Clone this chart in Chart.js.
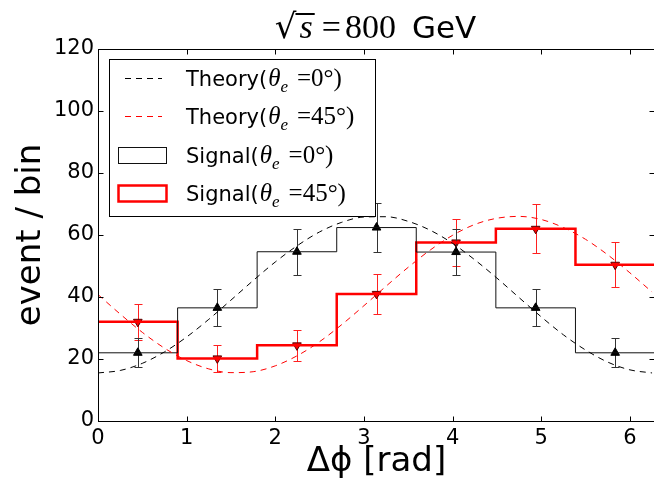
<!DOCTYPE html>
<html>
<head>
<meta charset="utf-8">
<script src="https://cdn.jsdelivr.net/npm/chart.js@4/dist/chart.umd.min.js"></script>
<style>
  html, body { margin: 0; padding: 0; overflow: hidden; background: #fff; }
</style>
</head>
<body>
<canvas id="chart" width="661" height="486"></canvas>
<script>
// histogram bins (7 bins over 0..2pi)
const binEdges = [0, 0.898, 1.795, 2.693, 3.590, 4.488, 5.386, 6.283];
const binCenters = [0.449, 1.346, 2.244, 3.142, 4.039, 4.937, 5.834];

// signal counts per bin
const signal0 = [22, 36.5, 54.6, 62.4, 54.5, 36.5, 22];
const signal0Err = [4.7, 6.0, 7.4, 7.9, 7.4, 6.0, 4.7];
const signal45 = [32, 20.2, 24.4, 41, 57.6, 62, 50.4];
const signal45Err = [5.8, 4.4, 5.0, 6.5, 7.6, 7.9, 7.2];

// theory curves sampled every 0.25 rad
const theoryX = [0, 0.25, 0.5, 0.75, 1, 1.25, 1.5, 1.75, 2, 2.25, 2.5, 2.75, 3, 3.25, 3.5, 3.75, 4, 4.25, 4.5, 4.75, 5, 5.25, 5.5, 5.75, 6, 6.25];
const theory0 = [15.5, 16.3, 18.6, 22.3, 27.1, 32.8, 39.0, 45.3, 51.3, 56.6, 61.0, 64.1, 65.8, 65.9, 64.4, 61.5, 57.3, 52.0, 46.1, 39.8, 33.6, 27.8, 22.9, 19.0, 16.5, 15.5];
const theory45 = [40.8, 34.5, 28.6, 23.5, 19.5, 16.8, 15.6, 15.9, 17.8, 21.1, 25.6, 31.1, 37.2, 43.5, 49.6, 55.2, 59.9, 63.4, 65.4, 66.0, 65.0, 62.4, 58.6, 53.6, 47.8, 41.6];

const xTicks = [0, 1, 2, 3, 4, 5, 6];
const yTicks = [0, 20, 40, 60, 80, 100, 120];

const SANS = '"DejaVu Sans", sans-serif';
const SERIF = '"Liberation Serif", "DejaVu Serif", serif';

function stepData(vals) {
  return binEdges.map((x, i) => ({ x: x, y: vals[Math.min(i, vals.length - 1)] }));
}
function pointData(vals) {
  return binCenters.map((x, i) => ({ x: x, y: vals[i] }));
}

// error bars, drawn just before the marker dataset
const errorBars = {
  id: 'errorBars',
  beforeDatasetDraw(chart, args) {
    const ds = chart.data.datasets[args.index];
    if (!ds.errors) return;
    const { ctx, scales: { x, y } } = chart;
    ctx.save();
    ctx.strokeStyle = ds.errorColor;
    ctx.lineWidth = 1;
    ds.data.forEach((p, i) => {
      const px = Math.round(x.getPixelForValue(p.x)) + 0.5;
      const top = Math.round(y.getPixelForValue(p.y + ds.errors[i])) + 0.5;
      const bot = Math.round(y.getPixelForValue(p.y - ds.errors[i])) + 0.5;
      ctx.beginPath();
      ctx.moveTo(px, top); ctx.lineTo(px, bot);
      ctx.moveTo(px - 4, top); ctx.lineTo(px + 4, top);
      ctx.moveTo(px - 4, bot); ctx.lineTo(px + 4, bot);
      ctx.stroke();
    });
    ctx.restore();
  }
};

// draw a run of text pieces with different fonts
function drawRuns(ctx, runs, x, y, measureOnly) {
  let cx = x;
  runs.forEach(r => {
    cx += r.gap || 0;
    ctx.font = r.font;
    if (!measureOnly) ctx.fillText(r.text, cx, y + (r.dy || 0));
    r.x0 = cx;
    cx += ctx.measureText(r.text).width;
    r.x1 = cx;
  });
  return cx - x;
}

// title: sqrt(s) = 800 GeV
const titlePlugin = {
  id: 'mathTitle',
  afterDraw(chart) {
    const { ctx, chartArea } = chart;
    const runs = [
      { text: '\u221A', font: '34px "DejaVu Serif", serif' },
      { text: 's', font: 'italic 34px ' + SERIF, gap: 3 },
      { text: '=', font: '34px ' + SERIF, gap: 9 },
      { text: '800', font: '34px ' + SERIF, gap: 4 },
      { text: 'GeV', font: '31px ' + SANS, gap: 16 }
    ];
    ctx.save();
    ctx.fillStyle = '#000';
    ctx.textBaseline = 'alphabetic';
    const w = drawRuns(ctx, runs, 0, 0, true);
    const x0 = (chartArea.left + chartArea.right) / 2 - w / 2 - 1;
    drawRuns(ctx, runs, x0, 38);
    // overbar of the radical
    ctx.fillRect(runs[0].x1 - 1, 13, runs[1].x1 - runs[0].x1 + 3, 2);
    ctx.restore();
  }
};

// legend in the upper left corner
const legendBox = {
  id: 'legendBox',
  afterDatasetsDraw(chart) {
    const { ctx } = chart;
    const items = chart.data.datasets.filter(d => d.inLegend);
    ctx.save();
    ctx.fillStyle = '#fff';
    ctx.fillRect(109.5, 59.5, 266, 157);
    ctx.strokeStyle = '#000';
    ctx.lineWidth = 1;
    ctx.strokeRect(109.5, 59.5, 266, 157);
    items.forEach((d, i) => {
      const yc = 78 + i * 38.3;
      ctx.strokeStyle = d.borderColor;
      if (d.stepped) {
        ctx.lineWidth = d.borderWidth;
        ctx.setLineDash([]);
        ctx.strokeRect(118.5, Math.round(yc) - 7.5, 48, 16);
      } else {
        ctx.lineWidth = 1;
        ctx.setLineDash(d.borderDash);
        ctx.beginPath();
        ctx.moveTo(125, Math.round(yc) + 0.5);
        ctx.lineTo(162, Math.round(yc) + 0.5);
        ctx.stroke();
      }
      ctx.setLineDash([]);
      const m = d.label.match(/^(.*)\u03B8e(.*)$/);
      const runs = [
        { text: m[1], font: '21px ' + SANS },
        { text: '\u03B8', font: 'italic 25px ' + SERIF, gap: 1 },
        { text: 'e', font: 'italic 17px ' + SERIF, dy: 6 },
        { text: m[2].trim(), font: '25px ' + SERIF, gap: 9 }
      ];
      ctx.fillStyle = '#000';
      ctx.textBaseline = 'alphabetic';
      drawRuns(ctx, runs, 186, yc + 8);
    });
    ctx.restore();
  }
};

// frame with inward ticks on all sides
const frame = {
  id: 'frame',
  afterDraw(chart) {
    const { ctx, chartArea: a, scales: { x, y } } = chart;
    ctx.save();
    ctx.strokeStyle = '#000';
    ctx.lineWidth = 1;
    const L = Math.round(a.left) + 0.5, R = Math.round(a.right) - 0.5;
    const T = Math.round(a.top) + 0.5, B = Math.round(a.bottom) + 0.5;
    ctx.strokeRect(L, T, R - L, B - T);
    ctx.beginPath();
    xTicks.forEach(v => {
      const px = Math.round(x.getPixelForValue(v)) + 0.5;
      ctx.moveTo(px, B); ctx.lineTo(px, B - 5);
      ctx.moveTo(px, T); ctx.lineTo(px, T + 5);
    });
    yTicks.forEach(v => {
      const py = Math.round(y.getPixelForValue(v)) + 0.5;
      ctx.moveTo(L, py); ctx.lineTo(L + 5, py);
      ctx.moveTo(R, py); ctx.lineTo(R - 5, py);
    });
    ctx.stroke();
    ctx.restore();
  }
};

new Chart(document.getElementById('chart'), {
  type: 'line',
  data: {
    datasets: [
      {
        label: 'Theory(\u03B8e =0\u00B0)',
        data: theoryX.map((x, i) => ({ x: x, y: theory0[i] })),
        borderColor: '#000',
        borderWidth: 1,
        borderDash: [6, 5],
        pointRadius: 0,
        cubicInterpolationMode: 'monotone',
        inLegend: true
      },
      {
        label: 'Theory(\u03B8e =45\u00B0)',
        data: theoryX.map((x, i) => ({ x: x, y: theory45[i] })),
        borderColor: '#ff0000',
        borderWidth: 1,
        borderDash: [6, 5],
        pointRadius: 0,
        cubicInterpolationMode: 'monotone',
        inLegend: true
      },
      {
        label: 'Signal(\u03B8e =0\u00B0)',
        data: stepData(signal0),
        stepped: 'before',
        borderColor: '#111',
        borderWidth: 1,
        pointRadius: 0,
        inLegend: true
      },
      {
        label: 'Signal(\u03B8e =45\u00B0)',
        data: stepData(signal45),
        stepped: 'before',
        borderColor: '#ff0000',
        borderWidth: 2.5,
        pointRadius: 0,
        inLegend: true
      },
      {
        label: 'points 0',
        data: pointData(signal0),
        errors: signal0Err,
        errorColor: '#333',
        showLine: false,
        pointStyle: 'triangle',
        pointRadius: 5,
        pointBackgroundColor: '#000',
        pointBorderColor: '#000',
        pointBorderWidth: 1
      },
      {
        label: 'points 45',
        data: pointData(signal45),
        errors: signal45Err,
        errorColor: '#ff2020',
        showLine: false,
        pointStyle: 'triangle',
        rotation: 180,
        pointRotation: 180,
        pointRadius: 5,
        pointBackgroundColor: '#ff0000',
        pointBorderColor: '#550000',
        pointBorderWidth: 1
      }
    ]
  },
  options: {
    responsive: false,
    animation: false,
    devicePixelRatio: 1,
    layout: { padding: { top: 49, right: 0, left: 0, bottom: 0 } },
    plugins: {
      legend: { display: false },
      tooltip: { enabled: false },
      title: { display: false }
    },
    scales: {
      x: {
        type: 'linear',
        min: 0,
        max: 6.2832,
        afterBuildTicks: s => { s.ticks = xTicks.map(v => ({ value: v })); },
        afterFit: s => { s.height = 65; },
        grid: { display: false, drawTicks: false },
        border: { display: false },
        ticks: {
          font: { family: SANS, size: 21 },
          color: '#000',
          padding: 5,
          maxRotation: 0,
          callback: v => String(v)
        },
        title: {
          display: true,
          text: '\u0394\u03D5 [rad]',
          font: { family: SANS, size: 34 },
          color: '#000',
          padding: { top: 0, bottom: 3 }
        }
      },
      y: {
        type: 'linear',
        min: 0,
        max: 120,
        afterBuildTicks: s => { s.ticks = yTicks.map(v => ({ value: v })); },
        afterFit: s => { s.width = 98; },
        grid: { display: false, drawTicks: false },
        border: { display: false },
        ticks: {
          font: { family: SANS, size: 21 },
          color: '#000',
          padding: 4,
          callback: v => String(v)
        },
        title: {
          display: true,
          text: 'event / bin',
          font: { family: SANS, size: 34, lineHeight: 1 },
          color: '#000',
          padding: { top: 14, bottom: 0 }
        }
      }
    }
  },
  plugins: [errorBars, legendBox, frame, titlePlugin]
});
</script>
</body>
</html>
